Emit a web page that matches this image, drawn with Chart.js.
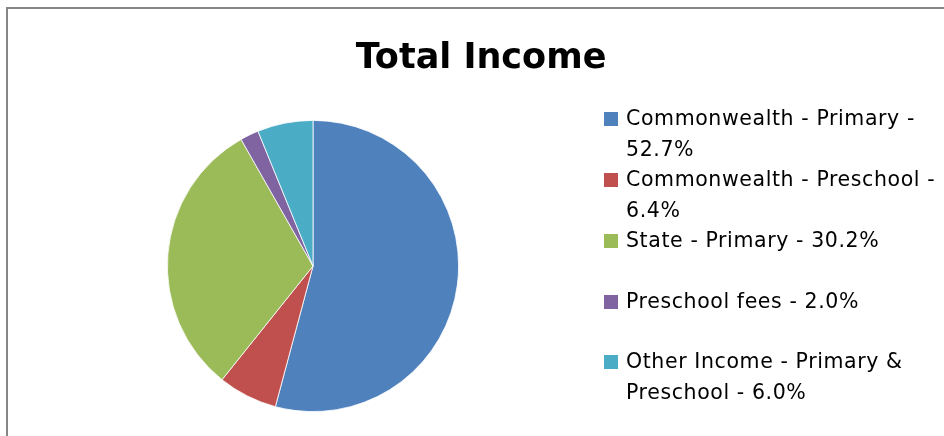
<!DOCTYPE html>
<html>
<head>
<meta charset="utf-8">
<script src="https://cdn.jsdelivr.net/npm/chart.js@4/dist/chart.umd.min.js"></script>
<style>
  html, body { margin: 0; padding: 0; background: #fff; }
  #wrap { position: relative; width: 944px; height: 436px; overflow: hidden; background: #fff; }
  #frame { position: absolute; left: 6px; top: 7px; width: 1000px; height: 500px;
           border-top: 2px solid #868686; border-left: 2px solid #868686; box-sizing: border-box; }
  #chart { position: absolute; left: 0; top: 0; }
  #title { position: absolute; left: 0; width: 962px; top: 36px; text-align: center;
           font-family: "DejaVu Sans", sans-serif; font-weight: bold; font-size: 35px; color: #000; line-height: 40px; white-space: nowrap; }
  #legend { position: absolute; left: 604px; top: 103.4px; width: 340px;
            font-family: "DejaVu Sans", sans-serif; font-size: 20.5px; letter-spacing: 0.6px; color: #000; }
  .item { position: relative; height: 60.75px; }
  .sw { position: absolute; left: 0; top: 9px; width: 14px; height: 14px; }
  .txt { position: absolute; left: 22px; top: 0; width: 320px; line-height: 31px; }
</style>
</head>
<body>
<div id="wrap">
  <div id="frame"></div>
  <canvas id="chart" width="944" height="436"></canvas>
  <div id="title"></div>
  <div id="legend"></div>
</div>
<script>
const chartTitle = "Total Income";
const categories = [
  "Commonwealth - Primary",
  "Commonwealth - Preschool",
  "State - Primary",
  "Preschool fees",
  "Other Income - Primary & Preschool"
];
const percentValues = [52.7, 6.4, 30.2, 2.0, 6.0];
const sliceColors = ["#4F81BD", "#C0504D", "#9BBB59", "#8064A2", "#4BACC6"];

document.getElementById("title").textContent = chartTitle;

const legendEl = document.getElementById("legend");
categories.forEach((name, i) => {
  const item = document.createElement("div");
  item.className = "item";
  const sw = document.createElement("div");
  sw.className = "sw";
  sw.style.background = sliceColors[i];
  const txt = document.createElement("div");
  txt.className = "txt";
  txt.textContent = name + " - " + percentValues[i].toFixed(1) + "%";
  item.appendChild(sw);
  item.appendChild(txt);
  legendEl.appendChild(item);
});

new Chart(document.getElementById("chart"), {
  type: "pie",
  data: {
    labels: categories,
    datasets: [{
      data: percentValues,
      backgroundColor: sliceColors,
      borderColor: "#ffffff",
      borderWidth: 0.8
    }]
  },
  options: {
    responsive: false,
    animation: false,
    rotation: 0,
    layout: { padding: { left: 167, right: 485, top: 120, bottom: 24 } },
    plugins: {
      legend: { display: false },
      title: { display: false },
      tooltip: { enabled: false }
    }
  }
});
</script>
</body>
</html>
